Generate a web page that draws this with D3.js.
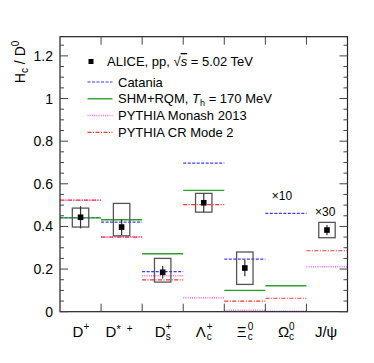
<!DOCTYPE html>
<html>
<head>
<meta charset="utf-8">
<script src="https://cdn.jsdelivr.net/npm/d3@7"></script>
<style>
  body { margin: 0; background: #fff; }
  text { font-family: "Liberation Sans", Arial, sans-serif; fill: #000; }
</style>
</head>
<body>
<div id="chart"></div>
<script>
// hadron species on the x axis
const categories = ['D+', 'D*+', 'Ds+', 'Lc+', 'Xic0', 'Omc0', 'Jpsi'];

// ALICE measurement (null where none)
const aliceVal  = [0.443, 0.397, 0.185, 0.511, 0.205, null, 0.383];
const statErr   = [0.052, 0.037, 0.029, 0.044, 0.039, null, 0.024];
const systHigh  = [0.486, 0.508, 0.250, 0.555, 0.280, null, 0.419];
const systLow   = [0.397, 0.356, 0.139, 0.467, 0.128, null, 0.347];

// model predictions
const catania   = [0.441, 0.420, 0.188, 0.697, 0.247, 0.461, null];
const shmRqm    = [0.440, 0.431, 0.272, 0.569, 0.100, 0.122, null];
const monash    = [0.523, 0.352, 0.169, 0.066, 0.007, 0.002, 0.211];
const crMode2   = [0.523, 0.350, 0.149, 0.502, 0.050, 0.063, 0.286];

const yTicks = [0, 0.2, 0.4, 0.6, 0.8, 1, 1.2];

const width = 374, height = 363;
const margin = { top: 36.7, right: 26.5, bottom: 51.3, left: 60 };

var svg = d3.select('#chart').append('svg')
  .attr('width', width)
  .attr('height', height);

const x = d3.scaleLinear().domain([0, categories.length]).range([margin.left, width - margin.right]);
const y = d3.scaleLinear().domain([0, 1.29]).range([height - margin.bottom, margin.top]);

const models = [
  { name: 'Catania', vals: catania, color: '#3b3bf5', dash: '3,1.5', w: 1.2 },
  { name: 'SHM', vals: shmRqm, color: '#2aa02a', dash: null, w: 1.4 },
  { name: 'Monash', vals: monash, color: '#ff66ff', dash: '1,1.2', w: 1.5 },
  { name: 'CR2', vals: crMode2, color: '#ff3030', dash: '4,1.5,1,1.5', w: 1.2 }
];

// model lines, each spans the whole category
models.forEach(m => {
  svg.append('g').selectAll('line')
    .data(m.vals.map((v, i) => ({ v, i })).filter(d => d.v !== null))
    .enter().append('line')
    .attr('x1', d => x(d.i))
    .attr('x2', d => x(d.i + 1))
    .attr('y1', d => y(d.v))
    .attr('y2', d => y(d.v))
    .style('stroke', m.color)
    .style('stroke-width', m.w)
    .style('stroke-dasharray', m.dash);
});

const pts = aliceVal.map((v, i) => ({ v, i, st: statErr[i], hi: systHigh[i], lo: systLow[i] }))
  .filter(d => d.v !== null);

// systematic boxes
svg.append('g').selectAll('rect').data(pts)
  .enter().append('rect')
  .attr('x', d => x(d.i + 0.3))
  .attr('width', x(0.4) - x(0))
  .attr('y', d => y(d.hi))
  .attr('height', d => y(d.lo) - y(d.hi))
  .style('fill', 'none')
  .style('stroke', '#555')
  .style('stroke-width', 1.3);

// stat error bars
svg.append('g').selectAll('line').data(pts)
  .enter().append('line')
  .attr('x1', d => x(d.i + 0.5)).attr('x2', d => x(d.i + 0.5))
  .attr('y1', d => y(d.v + d.st)).attr('y2', d => y(d.v - d.st))
  .style('stroke', '#333')
  .style('stroke-width', 1.2);

svg.append('g').selectAll('rect').data(pts)
  .enter().append('rect')
  .attr('x', d => x(d.i + 0.5) - 2.8)
  .attr('y', d => y(d.v) - 2.8)
  .attr('width', 5.6).attr('height', 5.6)
  .style('fill', '#000');

// frame
const x0 = x(0), x1 = x(categories.length), yb = y(0), yt = margin.top;
svg.append('rect')
  .attr('x', x0).attr('y', yt)
  .attr('width', x1 - x0).attr('height', yb - yt)
  .style('fill', 'none').style('stroke', '#222').style('stroke-width', 1.2);

// y ticks, left and right, inward
const tickG = svg.append('g').style('stroke', '#444').style('stroke-width', 1);
const minor = d3.range(0, 1.2901, 0.05);
minor.forEach(t => {
  const isMajor = Math.abs(t * 5 - Math.round(t * 5)) < 1e-6;
  const len = isMajor ? 8 : 4;
  tickG.append('line').attr('x1', x0).attr('x2', x0 + len).attr('y1', y(t)).attr('y2', y(t));
  tickG.append('line').attr('x1', x1).attr('x2', x1 - len).attr('y1', y(t)).attr('y2', y(t));
});
// x ticks at category boundaries
d3.range(1, categories.length).forEach(i => {
  tickG.append('line').attr('x1', x(i)).attr('x2', x(i)).attr('y1', yb).attr('y2', yb - 8);
  tickG.append('line').attr('x1', x(i)).attr('x2', x(i)).attr('y1', yt).attr('y2', yt + 8);
});

svg.append('g').selectAll('text').data(yTicks)
  .enter().append('text')
  .attr('x', x0 - 7)
  .attr('y', d => y(d) + 5)
  .attr('text-anchor', 'end')
  .style('font-size', '14px')
  .text(d => d);

// y title
const yt_ = svg.append('text')
  .attr('transform', `translate(25,${yt + 4}) rotate(-90)`)
  .attr('text-anchor', 'end')
  .style('font-size', '14px');
yt_.append('tspan').text('H');
yt_.append('tspan').attr('dy', 3).style('font-size', '10px').text('c');
yt_.append('tspan').attr('dy', -3).text(' / D');
yt_.append('tspan').attr('dy', -6).style('font-size', '10px').text('0');

// x labels: [base, sub, sup]
const xLabelParts = [['D', '', '+'], ['D', '', '* +'], ['D', 's', '+'], ['Λ', 'c', '+'],
  ['Ξ', 'c', '0'], ['Ω', 'c', '0'], ['J/ψ', '', '']];
xLabelParts.forEach((p, i) => {
  const cx = x(i + 0.5);
  const t = svg.append('text').attr('y', 337).style('font-size', '15px');
  const bw = p[0] === 'J/ψ' ? 24 : 10;
  const sw = Math.max(p[1].length, p[2].length) * 6;
  t.attr('x', cx - (bw + sw) / 2 + (p[2] === '* +' ? -2 : 0));
  t.append('tspan').text(p[0]);
  if (p[2] === '* +') {
    t.append('tspan').attr('dy', -4).style('font-size', '11px').text('*');
    t.append('tspan').attr('dx', 6).attr('dy', -1).style('font-size', '10px').text('+');
  } else {
    if (p[2]) {
      const bx = cx - (bw + sw) / 2 + bw + 1;
      t.append('tspan').attr('x', bx).attr('dy', -7).style('font-size', '10px').text(p[2]);
      if (p[1]) t.append('tspan').attr('x', bx).attr('dy', 10).style('font-size', '10px').text(p[1]);
    }
  }
});

// scale factor notes
svg.append('text').attr('x', x(5.155)).attr('y', y(0.526)).style('font-size', '12px').text('×10');
svg.append('text').attr('x', x(6.21)).attr('y', y(0.447)).style('font-size', '12px').text('×30');

// legend
const lg = svg.append('g');
lg.append('rect').attr('x', 88.5).attr('y', 59).attr('width', 5).attr('height', 5).style('fill', '#000');
const at = lg.append('text').attr('x', 107).attr('y', 66).style('font-size', '13px');
at.append('tspan').text('ALICE, pp, ');
at.append('tspan').text('√');
at.append('tspan').style('font-style', 'italic').style('text-decoration', 'overline').text('s');
at.append('tspan').text(' = 5.02 TeV');

const legendNames = ['Catania', 'SHM', 'PYTHIA Monash 2013', 'PYTHIA CR Mode 2'];
models.forEach((m, i) => {
  const ly = 82 + i * 16.8;
  lg.append('line').attr('x1', 87.5).attr('x2', 112.5).attr('y1', ly).attr('y2', ly)
    .style('stroke', m.color).style('stroke-width', m.w).style('stroke-dasharray', m.dash);
  const t = lg.append('text').attr('x', 118).attr('y', ly + 4.5).style('font-size', '13px');
  if (m.name === 'SHM') {
    t.append('tspan').text('SHM+RQM, ');
    t.append('tspan').style('font-style', 'italic').text('T');
    t.append('tspan').attr('dy', 3).style('font-size', '9px').text('h');
    t.append('tspan').attr('dy', -3).text('  =  170 MeV');
  } else {
    t.text(legendNames[i]);
  }
});
</script>
</body>
</html>
